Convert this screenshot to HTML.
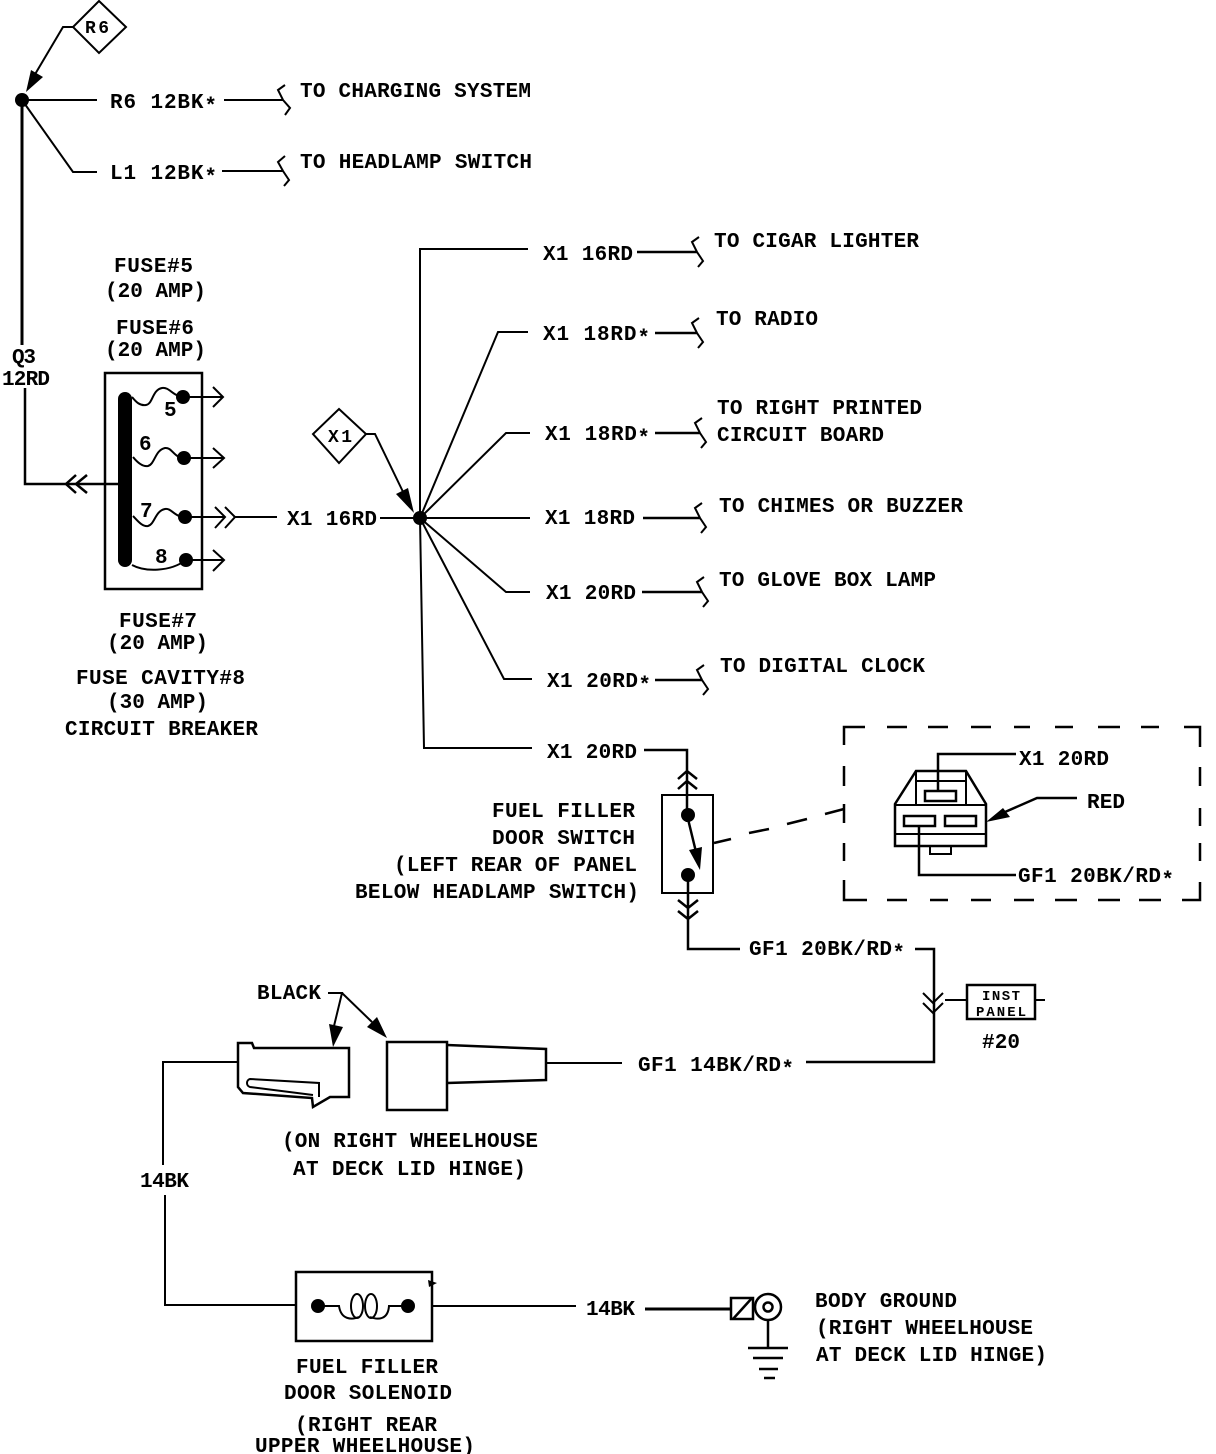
<!DOCTYPE html>
<html><head><meta charset="utf-8"><style>
html,body{margin:0;padding:0;background:#fff}
svg{display:block}
text{font-family:"Liberation Mono",monospace;font-weight:700;font-size:21px;fill:#000}
.l{fill:none;stroke:#000;stroke-width:2}
</style></head><body>
<svg width="1216" height="1454" viewBox="0 0 1216 1454" xmlns="http://www.w3.org/2000/svg">
<g class="l">
<!-- top -->
<path d="M99 1L126 27L99 53L73 27Z"/>
<path d="M73 27H63L34 76"/>
<path d="M22 100H97M22 100L73 172H97"/>
<path d="M22 100V345" stroke-width="3"/>
<path d="M25 388V484H66M66 484H118" stroke-width="2.5"/>
<path d="M224 100H283M222 171H283"/>
<path d="M285 85L278 90L283 100L290 108L285 115M285 156L278 162L283 171L289 180L284 186"/>
<path d="M76 475L66 484L76 493M87 475L76 484L87 493" stroke-width="2.5"/>
<!-- fuse box -->
<rect x="105" y="373" width="97" height="216" stroke-width="2.5"/>
<path d="M132 397C136 402 140 406 146 405C153 404 152 390 162 388C170 387 172 396 184 397H223M213 387L223 397L213 407"/>
<path d="M133 457C137 462 142 467 148 466C155 464 155 450 165 448C172 447 174 458 184 458H224M213 448L224 458L213 468"/>
<path d="M133 516C137 520 142 527 148 526C155 524 155 511 165 509C172 508 174 517 185 517H225M215 507L225 517L215 528M225 507L235 517L225 528M235 517H277"/>
<path d="M132 565C145 572 170 572 186 560H224M213 550L224 560L213 571"/>
<!-- bus -->
<path d="M380 518H420M420 518V249H528M420 518L498 332H528M420 518L506 433H530M420 518H530M420 518L506 592H530M420 518L424 748H532M420 518L504 679H532"/>
<path d="M339 409L366 434L339 463L313 434Z"/>
<path d="M366 434H375L406 498"/>
<path d="M637 252H697M655 333H697M655 433H700M643 518H700M642 592H702M655 680H702" stroke-width="2.5"/>
<path d="M699 237L692 242L697 252L703 261L698 267M699 318L692 323L697 333L703 342L698 348M702 418L695 423L700 433L706 442L701 448M702 503L695 508L700 518L706 527L701 533M704 577L697 582L702 592L708 601L703 607M704 665L697 670L702 680L708 689L703 695"/>
<!-- fuel door switch -->
<path d="M644 750H687V822M678 779L687 771L697 779M678 789L687 781L697 789" stroke-width="2.5"/>
<rect x="662" y="795" width="51" height="98"/>
<path d="M688 819L696 852M688 875V949H740M678 900L688 908L698 900M678 911L688 919L698 911" stroke-width="2.5"/>
<path d="M915 949H934V1062H806" stroke-width="2.5"/>
<path d="M923 993L933 1003L943 993M923 1003L933 1013L943 1003"/>
<path d="M714 843L731 839M749 833L769 829M787 824L807 819M825 814L844 809" stroke-width="2.5"/>
<path d="M945 1000H967M1035 1000H1045"/>
<rect x="967" y="985" width="68" height="34" stroke-width="2.5"/>
<!-- inset -->
<path d="M844 745V727H865M887 727H907M928 727H948M971 727H991M1014 727H1030M1055 727H1073M1098 727H1120M1141 727H1159M1184 727H1200V747M1200 767V786M1200 808V826M1200 843V861M1200 882V900H1182M1161 900H1139M1120 900H1098M1077 900H1055M1034 900H1014M991 900H971M948 900H930M907 900H887M867 900H844V880M844 861V843M844 823V804M844 786V766" stroke-width="2.5"/>
<path d="M916 771H966L986 804V846H895V804Z" stroke-width="2.5"/>
<path d="M916 771V805M966 771V805M916 781H966M895 805H986M895 834H986"/>
<rect x="925" y="791" width="31" height="10" stroke-width="2.5"/>
<rect x="904" y="816" width="31" height="10" stroke-width="2.5"/>
<rect x="945" y="816" width="31" height="10" stroke-width="2.5"/>
<rect x="930" y="846" width="21" height="8"/>
<path d="M938 791V754H1016M1077 798H1037L1005 812M919 826V875H1016" stroke-width="2.5"/>
<!-- connector -->
<path d="M328 993H342L334 1026M342 993L372 1022"/>
<path d="M238 1043H252L254 1048H349V1097H330L313 1107L312 1098L243 1093L238 1087Z" stroke-width="2.5"/>
<path d="M319 1097V1083L250 1079C246 1080 246 1086 250 1087L313 1095"/>
<rect x="387" y="1042" width="60" height="68" stroke-width="2.5"/>
<path d="M447 1045L546 1049V1080L447 1083" stroke-width="2.5"/>
<path d="M546 1063H622"/>
<path d="M238 1062H163V1165M165 1195V1305H296"/>
<rect x="296" y="1272" width="136" height="69" stroke-width="2.5"/>
<path d="M318 1306H339C341 1320 352 1320 359 1317M370 1317C378 1320 388 1320 389 1306H408M432 1306H576" />
<ellipse cx="357" cy="1306" rx="6" ry="12"/>
<ellipse cx="371" cy="1306" rx="6" ry="12"/>
<path d="M645 1309H731" stroke-width="3"/>
<rect x="731" y="1298" width="22" height="21" stroke-width="2.5"/>
<path d="M733 1319L752 1298" stroke-width="2.5"/>
<circle cx="768" cy="1307" r="13" stroke-width="2.5"/><circle cx="768" cy="1307" r="4.5" stroke-width="2.5"/>
<path d="M768 1320V1347" stroke-width="2.5"/>
<path d="M748 1348H788M753 1358H783M759 1369H778M764 1378H775" stroke-width="2.5"/>
</g>
<g fill="#000" stroke="none">
<circle cx="22" cy="100" r="7"/>
<path d="M26 92L31 70L43 77Z"/>
<rect x="118" y="392" width="14" height="175" rx="7"/>
<circle cx="183" cy="397" r="7"/><circle cx="184" cy="458" r="7"/><circle cx="185" cy="517" r="7"/><circle cx="186" cy="560" r="7"/>
<circle cx="420" cy="518" r="7"/>
<path d="M414 513L396 494L408 488Z"/>
<circle cx="688" cy="815" r="7"/><circle cx="688" cy="875" r="7"/>
<path d="M700 870L689 850L702 847Z"/>
<path d="M986 822L1003 808L1010 817Z"/>
<path d="M333 1047L329 1024L343 1027ZM387 1038L367 1027L377 1017Z"/>
<circle cx="318" cy="1306" r="7"/><circle cx="408" cy="1306" r="7"/>
<path d="M428 1280L437 1283L429 1287Z"/>
</g>
<text x="85" y="33" textLength="24" style="font-size:18px">R6</text>
<text x="328" y="442" textLength="24" style="font-size:18px">X1</text>
<text x="110" y="108" textLength="107">R6 12BK<tspan dy="4">*</tspan></text>
<text x="110" y="179" textLength="107">L1 12BK<tspan dy="4">*</tspan></text>
<text x="300" y="97" textLength="231">TO CHARGING SYSTEM</text>
<text x="300" y="168" textLength="232">TO HEADLAMP SWITCH</text>
<text x="114" y="272" textLength="79">FUSE#5</text>
<text x="105" y="297" textLength="101">(20 AMP)</text>
<text x="116" y="334" textLength="78">FUSE#6</text>
<text x="105" y="356" textLength="101">(20 AMP)</text>
<text x="12" y="363" textLength="24">Q3</text>
<text x="2" y="385" textLength="48">12RD</text>
<text x="164" y="416">5</text>
<text x="139" y="450">6</text>
<text x="140" y="517">7</text>
<text x="155" y="563">8</text>
<text x="119" y="627" textLength="78">FUSE#7</text>
<text x="107" y="649" textLength="101">(20 AMP)</text>
<text x="76" y="684" textLength="169">FUSE CAVITY#8</text>
<text x="107" y="708" textLength="101">(30 AMP)</text>
<text x="65" y="735" textLength="193">CIRCUIT BREAKER</text>
<text x="287" y="525" textLength="90">X1 16RD</text>
<text x="543" y="260" textLength="90">X1 16RD</text>
<text x="543" y="340" textLength="107">X1 18RD<tspan dy="4">*</tspan></text>
<text x="545" y="440" textLength="105">X1 18RD<tspan dy="4">*</tspan></text>
<text x="545" y="524" textLength="90">X1 18RD</text>
<text x="546" y="599" textLength="90">X1 20RD</text>
<text x="547" y="687" textLength="104">X1 20RD<tspan dy="4">*</tspan></text>
<text x="547" y="758" textLength="90">X1 20RD</text>
<text x="714" y="247" textLength="205">TO CIGAR LIGHTER</text>
<text x="716" y="325" textLength="102">TO RADIO</text>
<text x="717" y="414" textLength="205">TO RIGHT PRINTED</text>
<text x="717" y="441" textLength="167">CIRCUIT BOARD</text>
<text x="719" y="512" textLength="244">TO CHIMES OR BUZZER</text>
<text x="719" y="586" textLength="217">TO GLOVE BOX LAMP</text>
<text x="720" y="672" textLength="205">TO DIGITAL CLOCK</text>
<text x="492" y="817" textLength="143">FUEL FILLER</text>
<text x="492" y="844" textLength="143">DOOR SWITCH</text>
<text x="394" y="871" textLength="243">(LEFT REAR OF PANEL</text>
<text x="355" y="898" textLength="284">BELOW HEADLAMP SWITCH)</text>
<text x="1019" y="765" textLength="90">X1 20RD</text>
<text x="1087" y="808" textLength="38">RED</text>
<text x="1018" y="882" textLength="156">GF1 20BK/RD<tspan dy="4">*</tspan></text>
<text x="749" y="955" textLength="156">GF1 20BK/RD<tspan dy="4">*</tspan></text>
<text x="257" y="999" textLength="64">BLACK</text>
<text x="982" y="1000" textLength="38" style="font-size:14px">INST</text>
<text x="976" y="1016" textLength="50" style="font-size:14px">PANEL</text>
<text x="982" y="1048" textLength="38">#20</text>
<text x="638" y="1071" textLength="156">GF1 14BK/RD<tspan dy="4">*</tspan></text>
<text x="282" y="1147" textLength="256">(ON RIGHT WHEELHOUSE</text>
<text x="293" y="1175" textLength="233">AT DECK LID HINGE)</text>
<text x="140" y="1187" textLength="49">14BK</text>
<text x="586" y="1315" textLength="49">14BK</text>
<text x="815" y="1307" textLength="142">BODY GROUND</text>
<text x="816" y="1334" textLength="217">(RIGHT WHEELHOUSE</text>
<text x="816" y="1361" textLength="231">AT DECK LID HINGE)</text>
<text x="296" y="1373" textLength="142">FUEL FILLER</text>
<text x="284" y="1399" textLength="168">DOOR SOLENOID</text>
<text x="295" y="1431" textLength="142">(RIGHT REAR</text>
<text x="255" y="1452" textLength="220">UPPER WHEELHOUSE)</text>
</svg>
</body></html>
